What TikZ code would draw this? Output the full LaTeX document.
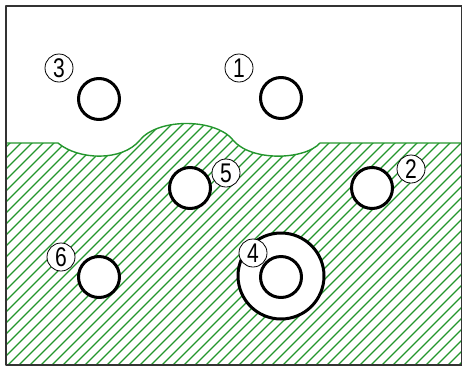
\documentclass[tikz,border=0pt]{standalone}
\usepackage{fontspec}
\newfontfamily\digitfont[FakeStretch=0.78]{Liberation Sans}
\definecolor{hatchgreen}{RGB}{35,150,45}
\tikzset{
  hole/.style={circle,draw,line width=3pt,fill=white,minimum size=41pt,inner sep=0pt},
  ring/.style={hole,minimum size=86pt},
  num/.style={circle,draw,line width=.8pt,fill=white,minimum size=28pt,inner sep=0pt,
    font=\digitfont\fontsize{27}{27}\selectfont},
  hatch/.style={hatchgreen,line width=1.2pt}
}
\begin{document}
\begin{tikzpicture}[x=1pt,y=-1pt,line join=round]
  \useasboundingbox (0,0) rectangle (462,367);
  % hatched ground
  \begin{scope}
    \clip (6,143) -- (58,143) .. controls (78,160) and (122,162) .. (140,140)
      .. controls (158,118) and (215,118) .. (233,140)
      .. controls (251,162) and (305,160) .. (320,143) -- (462,143) -- (462,365) -- (6,365) -- cycle;
    \foreach \x in {-250,-239,...,470}
      \draw[hatch] (\x,370) -- ++(370,-370);
  \end{scope}
  \draw[hatchgreen,line width=1.4pt] (6,143) -- (58,143) .. controls (78,160) and (122,162) .. (140,140)
      .. controls (158,118) and (215,118) .. (233,140)
      .. controls (251,162) and (305,160) .. (320,143) -- (462,143);
  \draw[line width=1.2pt,black!80] (6,6) rectangle (462,365);
  % holes
  \node[hole] (c3) at (99,99) {};
  \node[hole] (c1) at (281,98) {};
  \node[hole] (c5) at (190,188) {};
  \node[hole] (c2) at (372,188) {};
  \node[hole] (c6) at (99,277) {};
  \node[ring] (c4o) at (281,276) {};
  \node[hole] (c4) at (281,277) {};
  % numbers
  \node[num] (l3) at (59,68) {3};
  \node[num] (l1) at (239,68) {1};
  \node[num] (l5) at (226,173) {5};
  \node[num] (l2) at (411,169) {2};
  \node[num] (l6) at (61,257) {6};
  \node[num] (l4) at (253,253) {4};
\end{tikzpicture}
\end{document}
